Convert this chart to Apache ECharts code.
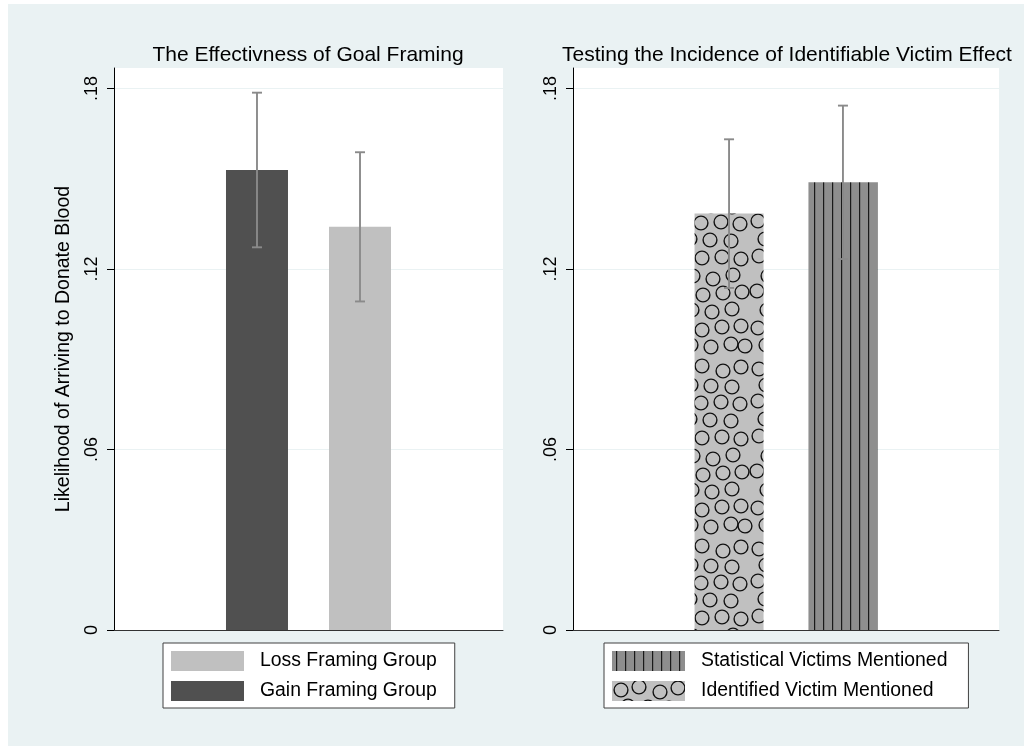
<!DOCTYPE html>
<html>
<head>
<meta charset="utf-8">
<script src="https://cdn.jsdelivr.net/npm/echarts@6/dist/echarts.min.js"></script>
<style>
  html, body { margin: 0; padding: 0; background: #ffffff; }
  #frame { position: absolute; left: 8px; top: 4px; width: 1016px; height: 742px; background: #eaf2f3; }
  #chart { position: absolute; left: 0; top: 0; width: 1024px; height: 746px; }
</style>
</head>
<body>
<div id="frame"></div>
<div id="chart"></div>
<script>
// Goal framing experiment: share of participants who arrived to donate blood
const goalGroups = ['Gain Framing Group', 'Loss Framing Group'];
const goalMeans = [0.1529, 0.1340];
const goalErrors = [0.0257, 0.0248];

// Identifiable victim experiment
const victimGroups = ['Identified Victim Mentioned', 'Statistical Victims Mentioned'];
const victimMeans = [0.1384, 0.1488];
const victimErrors = [0.0247, 0.0255];

// Y axis tick values
const yTicks = [0, 0.06, 0.12, 0.18];

const FONT = '"Liberation Sans", Arial, Helvetica, sans-serif';

// Ring pattern for the identified-victim bar (tile wraps seamlessly)
function ringPattern() {
  const c = document.createElement('canvas');
  c.width = 75; c.height = 180;
  const g = c.getContext('2d');
  g.fillStyle = '#c0c0c0';
  g.fillRect(0, 0, c.width, c.height);
  const centers = [
    [9,9],[27,6],[48,11],[66,7],[16,25],[36,26],[57,27],[8,41],[26,43],
    [46,42],[65,44],[15,59],[35,60],[56,61],[9,76],[27,78],[47,77],[66,79],
    [18,96],[38,99],[58,95],[7,111],[28,115],[48,113],[67,112],[17,130],[37,132],
    [57,129],[8,148],[27,150],[47,147],[66,146],[16,165],[36,167],[56,164],[70,166]
  ];
  g.strokeStyle = '#111111';
  g.lineWidth = 1.4;
  centers.forEach(([x, y]) => {
    for (const dx of [-c.width, 0, c.width]) {
      for (const dy of [-c.height, 0, c.height]) {
        g.beginPath();
        g.arc(x + dx, y + dy, 6.9, 0, Math.PI * 2);
        g.stroke();
      }
    }
  });
  return c;
}

// Vertical hatch pattern for the statistical-victims bar
function hatchPattern() {
  const c = document.createElement('canvas');
  c.width = 9; c.height = 10;
  const g = c.getContext('2d');
  g.fillStyle = '#8e8e8e';
  g.fillRect(0, 0, c.width, c.height);
  g.fillStyle = '#1a1a1a';
  g.fillRect(4, 0, 1.2, c.height);
  return c;
}

const tickLabel = v => (v === 0 ? '0' : String(v).replace(/^0/, ''));

function yAxis(gridIndex, name) {
  return {
    type: 'value', gridIndex, min: 0, max: 0.1868,
    name: name || '', nameLocation: 'middle', nameRotate: 90, nameGap: 40,
    nameTextStyle: { fontFamily: FONT, fontSize: 19.5, color: '#000' },
    axisLine: { show: true, onZero: false, lineStyle: { color: '#000', width: 1 } },
    axisTick: { show: true, length: 7, customValues: yTicks, lineStyle: { color: '#000' } },
    axisLabel: { customValues: yTicks, rotate: 90, margin: 13, formatter: tickLabel,
                 fontFamily: FONT, fontSize: 18, color: '#000' },
    splitLine: { show: true, lineStyle: { color: '#eaf2f3', width: 1 } }
  };
}

function xAxis(gridIndex, min, max) {
  return {
    type: 'value', gridIndex, min, max,
    axisLine: { show: true, onZero: false, lineStyle: { color: '#333', width: 1 } },
    axisTick: { show: false }, axisLabel: { show: false }, splitLine: { show: false }
  };
}

function errorBars(means, errs, axisIndex) {
  return {
    type: 'custom', xAxisIndex: axisIndex, yAxisIndex: axisIndex, z: 5, silent: true,
    data: means.map((m, i) => [i + 1, m - errs[i], m + errs[i]]),
    encode: { x: 0, y: [1, 2] },
    renderItem(params, api) {
      const lo = api.coord([api.value(0), api.value(1)]);
      const hi = api.coord([api.value(0), api.value(2)]);
      const half = 5;
      const style = { stroke: '#8a8a8a', lineWidth: 1.9 };
      return {
        type: 'group',
        children: [
          { type: 'line', shape: { x1: lo[0], y1: lo[1], x2: hi[0], y2: hi[1] }, style },
          { type: 'line', shape: { x1: hi[0] - half, y1: hi[1], x2: hi[0] + half, y2: hi[1] }, style },
          { type: 'line', shape: { x1: lo[0] - half, y1: lo[1], x2: lo[0] + half, y2: lo[1] }, style }
        ]
      };
    }
  };
}

const goalColors = ['#505050', '#c0c0c0'];
const victimColors = [{ image: ringPattern(), repeat: 'repeat' }, { image: hatchPattern(), repeat: 'repeat' }];

const legendBase = {
  orient: 'vertical', top: 643, itemWidth: 73, itemHeight: 20, itemGap: 10,
  icon: 'rect', backgroundColor: '#ffffff', borderColor: '#404040', borderWidth: 1,
  selectedMode: false,
  textStyle: { fontFamily: FONT, fontSize: 19.4, color: '#000', padding: [0, 0, 0, 11] }
};

const titleStyle = { fontFamily: FONT, fontSize: 21, fontWeight: 'normal', color: '#000' };

const option = {
  animation: false,
  backgroundColor: 'transparent',
  title: [
    { text: 'The Effectivness of Goal Framing', left: 303, top: 40, textAlign: 'center', textStyle: titleStyle },
    { text: 'Testing the Incidence of Identifiable Victim Effect', left: 782, top: 40, textAlign: 'center', textStyle: titleStyle }
  ],
  legend: [
    Object.assign({}, legendBase, { left: 163, padding: [8, 18, 7, 8],
      data: [goalGroups[1], goalGroups[0]] }),
    Object.assign({}, legendBase, { left: 604, padding: [8, 21, 7, 8],
      data: [victimGroups[1], victimGroups[0]] })
  ],
  grid: [
    { left: 114, right: 521, top: 68, bottom: 116, show: true, backgroundColor: '#ffffff', borderWidth: 0 },
    { left: 573, right: 25, top: 68, bottom: 116, show: true, backgroundColor: '#ffffff', borderWidth: 0 }
  ],
  xAxis: [xAxis(0, -0.388, 3.388), xAxis(1, -0.37, 3.37)],
  yAxis: [yAxis(0, 'Likelihood of Arriving to Donate Blood'), yAxis(1)],
  series: [
    ...goalGroups.map((name, i) => ({
      type: 'bar', name, xAxisIndex: 0, yAxisIndex: 0, barWidth: 62, barGap: '-100%',
      itemStyle: { color: goalColors[i] },
      data: [[i + 1, goalMeans[i]]]
    })),
    ...victimGroups.map((name, i) => ({
      type: 'bar', name, xAxisIndex: 1, yAxisIndex: 1, barWidth: 69, barGap: '-100%',
      itemStyle: { color: victimColors[i] },
      data: [[i + 1, victimMeans[i]]]
    })),
    errorBars(goalMeans, goalErrors, 0),
    errorBars(victimMeans, victimErrors, 1)
  ]
};

const chart = echarts.init(document.getElementById('chart'), null, { renderer: 'canvas' });
chart.setOption(option);
</script>
</body>
</html>
